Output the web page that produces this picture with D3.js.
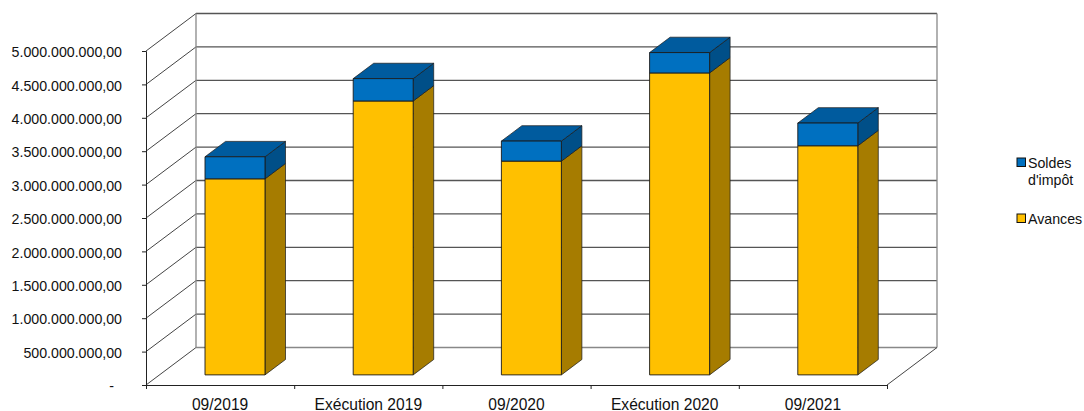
<!DOCTYPE html>
<html>
<head>
<meta charset="utf-8">
<script src="https://cdn.jsdelivr.net/npm/d3@7"></script>
<style>
  html, body { margin: 0; padding: 0; background: #fff; }
  svg { display: block; }
  text { font-family: "Liberation Sans", Arial, sans-serif; fill: #111; }
</style>
</head>
<body>
<div class="chart"></div>
<script>
const categories = ['09/2019', 'Exécution 2019', '09/2020', 'Exécution 2020', '09/2021']
const avances = [2935000000, 4100000000, 3200000000, 4520000000, 3430000000]
const soldes = [330000000, 335000000, 300000000, 305000000, 340000000]
const yTicks = [0, 500000000, 1000000000, 1500000000, 2000000000, 2500000000, 3000000000, 3500000000, 4000000000, 4500000000, 5000000000]

const colors = {
  avances: { front: '#ffc000', side: '#a67c00', top: '#c99700' },
  soldes: { front: '#0070c0', side: '#004f88', top: '#005b9e' }
}

const width = 1084, height = 411
const svg = d3.select('.chart').append('svg')
  .attr('width', width)
  .attr('height', height)

// front plane of the chart box
const xScale = d3.scaleBand().domain(categories).range([146, 887])
const yScale = d3.scaleLinear().domain([0, 5000000000]).range([385, 51])
const xEdge = d3.scaleLinear().domain([0, categories.length]).range([146, 887])

// depth: 0 = front of box, 1 = back wall
const depthX = d3.scaleLinear().domain([0, 1]).range([0, 50])
const depthY = d3.scaleLinear().domain([0, 1]).range([0, -37.5])

const barFront = 0.27, barBack = 0.68, barWidth = 60

const pt = (x, value, depth) => [x + depthX(depth), yScale(value) + depthY(depth)]
const poly = pts => d3.line()(pts) + 'Z'

// back wall and left wall grid
const walls = svg.append('g')
const xL = xScale.range()[0], xR = xScale.range()[1]

yTicks.forEach(t => {
  walls.append('line')
    .attr('x1', pt(xL, t, 0)[0]).attr('y1', pt(xL, t, 0)[1])
    .attr('x2', pt(xL, t, 1)[0]).attr('y2', pt(xL, t, 1)[1])
    .attr('stroke', '#444').attr('stroke-width', 1)
  walls.append('line')
    .attr('x1', pt(xL, t, 1)[0]).attr('y1', pt(xL, t, 1)[1])
    .attr('x2', pt(xR, t, 1)[0]).attr('y2', pt(xR, t, 1)[1])
    .attr('stroke', t === 0 ? '#888' : '#555').attr('stroke-width', 1.3)
})

// back wall verticals
;[xL, xR].forEach(x => {
  walls.append('line')
    .attr('x1', pt(x, 0, 1)[0]).attr('y1', pt(x, 0, 1)[1])
    .attr('x2', pt(x, 5000000000, 1)[0]).attr('y2', pt(x, 5000000000, 1)[1])
    .attr('stroke', '#888').attr('stroke-width', 1.3)
})

// floor right edge
walls.append('line')
  .attr('x1', pt(xR, 0, 0)[0]).attr('y1', pt(xR, 0, 0)[1])
  .attr('x2', pt(xR, 0, 1)[0]).attr('y2', pt(xR, 0, 1)[1])
  .attr('stroke', '#444').attr('stroke-width', 1)

// bars
const bars = svg.append('g')
categories.forEach((c, i) => {
  const x0 = xScale(c) + (xScale.bandwidth() - barWidth) / 2 + 1.4
  const x1 = x0 + barWidth
  const segs = [
    { lo: 0, hi: avances[i], col: colors.avances, top: false },
    { lo: avances[i], hi: avances[i] + soldes[i], col: colors.soldes, top: true }
  ]
  segs.forEach(s => {
    bars.append('path')
      .attr('d', poly([pt(x1, s.lo, barFront), pt(x1, s.lo, barBack), pt(x1, s.hi, barBack), pt(x1, s.hi, barFront)]))
      .attr('fill', s.col.side).attr('stroke', '#1a1a1a').attr('stroke-width', 0.7)
    if (s.top) {
      bars.append('path')
        .attr('d', poly([pt(x0, s.hi, barFront), pt(x1, s.hi, barFront), pt(x1, s.hi, barBack), pt(x0, s.hi, barBack)]))
        .attr('fill', s.col.top).attr('stroke', '#1a1a1a').attr('stroke-width', 0.7)
    }
    bars.append('path')
      .attr('d', poly([pt(x0, s.lo, barFront), pt(x1, s.lo, barFront), pt(x1, s.hi, barFront), pt(x0, s.hi, barFront)]))
      .attr('fill', s.col.front).attr('stroke', '#1a1a1a').attr('stroke-width', 0.9)
  })
})

// axes
const numFmt = d3.formatLocale({ decimal: ',', thousands: '.', grouping: [3], currency: ['', ''] }).format(',.2f')
const fmt = v => v === 0 ? '-' : numFmt(v)

const yAxis = d3.axisLeft(yScale).tickValues(yTicks).tickFormat(fmt).tickSize(4).tickPadding(20)
const yG = svg.append('g').attr('transform', `translate(${xL},0)`).call(yAxis)

const xAxis = d3.axisBottom(xScale).tickSize(0).tickPadding(14)
const xG = svg.append('g').attr('transform', `translate(0,${yScale(0)})`).call(xAxis)

const xTickAxis = d3.axisBottom(xEdge).tickValues(d3.range(categories.length + 1)).tickFormat('').tickSize(4)
const xTickG = svg.append('g').attr('transform', `translate(0,${yScale(0)})`).call(xTickAxis)
xTickG.select('.domain').remove()

;[yG, xG, xTickG].forEach(g => {
  g.selectAll('.domain').attr('stroke', '#222')
  g.selectAll('line').attr('stroke', '#222')
  g.selectAll('text').attr('font-size', 14.2).attr('font-family', '"Liberation Sans", Arial, sans-serif').attr('fill', '#111')
})
xG.selectAll('text').attr('font-size', 15.6)
yG.selectAll('text').attr('dy', '0.4em')
// the "-" label sits further left in the original format
yG.selectAll('text').filter(d => d === 0).attr('x', -32)

// legend
const legend = svg.append('g')
const legendItems = [
  { lines: ['Soldes', "d'impôt"], col: colors.soldes.front, x: 1017, y: 158, lx: [1028, 1028] },
  { lines: ['Avances'], col: colors.avances.front, x: 1017, y: 214, lx: [1028] }
]
legendItems.forEach(it => {
  legend.append('rect')
    .attr('x', it.x).attr('y', it.y).attr('width', 8.5).attr('height', 8.5)
    .attr('fill', it.col).attr('stroke', '#111').attr('stroke-width', 1)
  it.lines.forEach((l, j) => {
    legend.append('text')
      .attr('x', it.lx[j]).attr('y', it.y + 9.5 + j * 17)
      .attr('font-size', 14.2)
      .text(l)
  })
})
</script>
</body>
</html>
